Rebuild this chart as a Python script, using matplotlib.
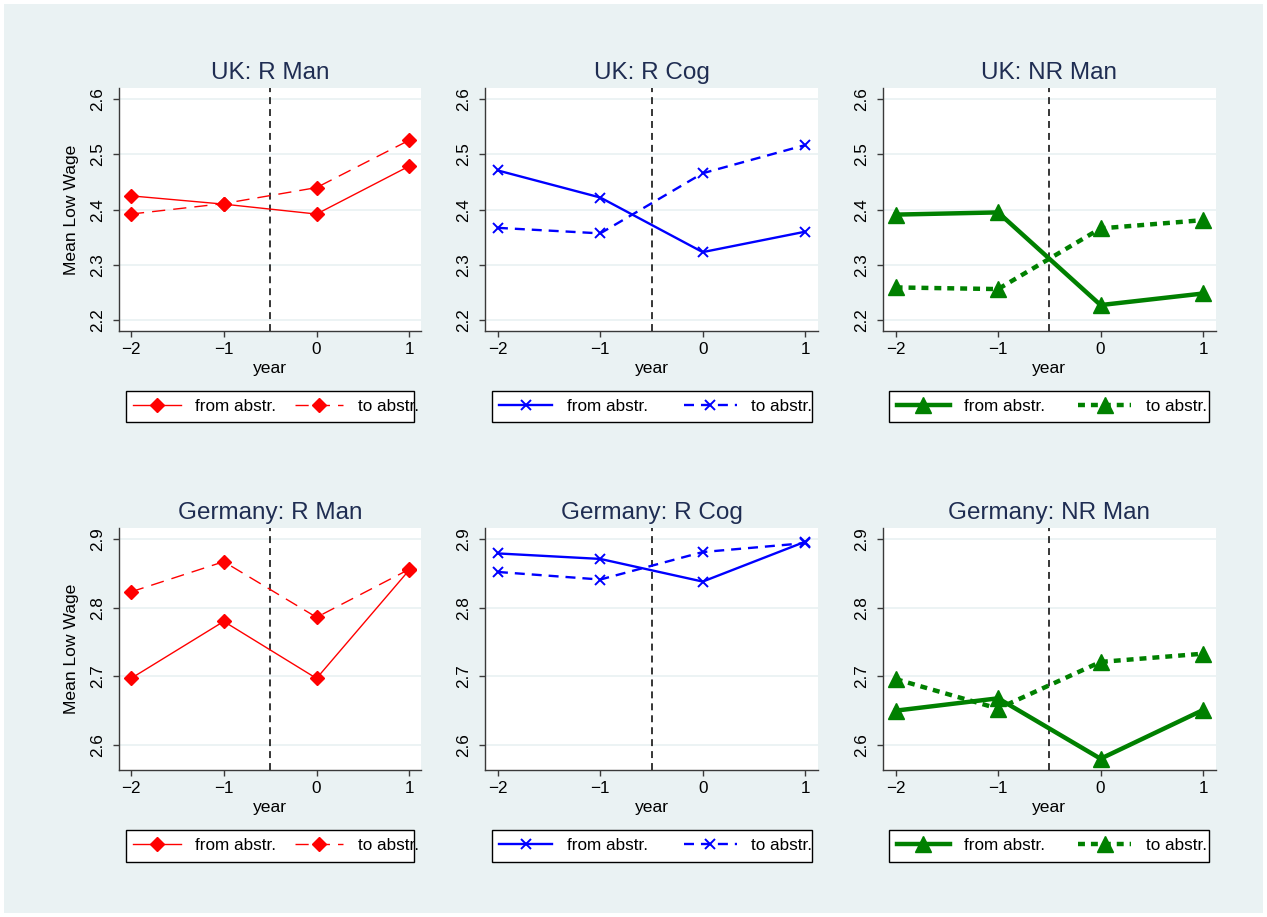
import matplotlib
matplotlib.use("Agg")
import matplotlib.pyplot as plt
from matplotlib.patches import Rectangle

plt.rcParams["font.family"] = ["Liberation Sans", "DejaVu Sans"]
plt.rcParams["lines.scale_dashes"] = False

years = [-2, -1, 0, 1]
event_x = -0.5

titles = ["UK: R Man", "UK: R Cog", "UK: NR Man",
          "Germany: R Man", "Germany: R Cog", "Germany: NR Man"]

# mean low wage by group, "from abstr." and "to abstr."
uk_rman_from = [2.425, 2.410, 2.392, 2.479]
uk_rman_to = [2.392, 2.411, 2.440, 2.526]
uk_rcog_from = [2.471, 2.422, 2.323, 2.360]
uk_rcog_to = [2.367, 2.357, 2.466, 2.517]
uk_nrman_from = [2.391, 2.395, 2.227, 2.248]
uk_nrman_to = [2.259, 2.256, 2.366, 2.381]

de_rman_from = [2.697, 2.780, 2.697, 2.855]
de_rman_to = [2.823, 2.867, 2.786, 2.856]
de_rcog_from = [2.879, 2.871, 2.838, 2.896]
de_rcog_to = [2.852, 2.841, 2.881, 2.894]
de_nrman_from = [2.650, 2.668, 2.580, 2.651]
de_nrman_to = [2.696, 2.653, 2.721, 2.733]

uk_yticks = [2.2, 2.3, 2.4, 2.5, 2.6]
de_yticks = [2.6, 2.7, 2.8, 2.9]

series = [(uk_rman_from, uk_rman_to), (uk_rcog_from, uk_rcog_to),
          (uk_nrman_from, uk_nrman_to), (de_rman_from, de_rman_to),
          (de_rcog_from, de_rcog_to), (de_nrman_from, de_nrman_to)]

BG = "#EAF2F3"
TITLE_C = "#1F2D52"
AX_C = "#3a3a3a"

# per-column line style: colour, marker, markersize, line width, dash pattern
styles = [
    dict(color="#FF0000", marker="D", ms=7, lw=1.0, mew=1.0, dashes=(9.5, 5.8)),
    dict(color="#0000FF", marker="x", ms=7.5, lw=1.7, mew=1.4, dashes=(7.2, 5.0)),
    dict(color="#008000", marker="^", ms=11.5, lw=3.2, mew=1.0, dashes=(5.0, 4.3)),
]

W, H = 1267, 917
fig = plt.figure(figsize=(W / 100, H / 100), dpi=100, facecolor="white")
fig.patches.append(Rectangle((4 / W, 4 / H), (W - 8) / W, (H - 8) / H,
                             transform=fig.transFigure, facecolor=BG,
                             edgecolor="none", zorder=-10))

col_x = [(119.3, 421.0), (485.0, 818.0), (882.7, 1216.0)]
row_y = [(88.3, 331.0), (528.3, 770.0)]
legend_box = [(126, 414), (491.7, 811.7), (889, 1209)]
legend_y = [(390.7, 422.0), (830.0, 861.7)]
handle_start = [133, 499.3, 896.7]
col_spacing = [1.1, 2.1, 1.95]
handle_len = [2.8, 3.1, 3.1]

for i, (title, (s_from, s_to)) in enumerate(zip(titles, series)):
    r, c = divmod(i, 3)
    x0, x1 = col_x[c]
    y0, y1 = row_y[r]
    ax = fig.add_axes([x0 / W, (H - y1) / H, (x1 - x0) / W, (y1 - y0) / H])
    ax.set_facecolor("white")
    st = styles[c]

    ax.plot(years, s_from, color=st["color"], marker=st["marker"],
            markersize=st["ms"], lw=st["lw"], mew=st["mew"],
            label="from abstr.", zorder=3)
    ax.plot(years, s_to, color=st["color"], marker=st["marker"],
            markersize=st["ms"], lw=st["lw"], mew=st["mew"],
            dashes=st["dashes"], label="to abstr.", zorder=3)
    ax.axvline(event_x, color="black", lw=1.1, dashes=(5, 3.6), zorder=2)

    ax.set_xlim(-2.126, 1.126)
    ax.set_xticks(years)
    if r == 0:
        ax.set_ylim(2.18, 2.62)
        ax.set_yticks(uk_yticks)
    else:
        ax.set_ylim(2.5636, 2.9156)
        ax.set_yticks(de_yticks)
    ax.set_yticklabels([f"{v:.1f}" for v in ax.get_yticks()],
                       rotation=90, va="center")
    ax.grid(axis="y", color=BG, lw=1.3, zorder=0)
    ax.set_axisbelow(True)

    for side in ["top", "right"]:
        ax.spines[side].set_visible(False)
    for side in ["left", "bottom"]:
        ax.spines[side].set_color(AX_C)
        ax.spines[side].set_linewidth(1.0)
    ax.tick_params(axis="both", labelsize=12.3, colors=AX_C, labelcolor="black",
                   length=4, width=1.0, direction="out")
    ax.tick_params(axis="x", pad=4)
    ax.tick_params(axis="y", pad=6)

    ax.set_xlabel("year", fontsize=12.6, labelpad=3)
    if c == 0:
        ax.set_ylabel("Mean Low Wage", fontsize=12.6, labelpad=8)
    ax.set_title(title, fontsize=17.5, color=TITLE_C, pad=7)

    # framed legend below each panel
    bx0, bx1 = legend_box[c]
    by0, by1 = legend_y[r]
    fig.patches.append(Rectangle((bx0 / W, (H - by1) / H), (bx1 - bx0) / W,
                                 (by1 - by0) / H, transform=fig.transFigure,
                                 facecolor="white", edgecolor="black",
                                 lw=1.0, zorder=1))
    handles, labels = ax.get_legend_handles_labels()
    leg = fig.legend(handles, labels, loc="center left", ncol=2,
                     bbox_to_anchor=(handle_start[c] / W, (H - (by0 + by1) / 2) / H),
                     frameon=False, fontsize=12.3, borderpad=0,
                     handlelength=handle_len[c], handletextpad=0.85,
                     columnspacing=col_spacing[c], borderaxespad=0)
    leg.set_zorder(2)

fig.savefig("out.png", dpi=100, facecolor="white")
